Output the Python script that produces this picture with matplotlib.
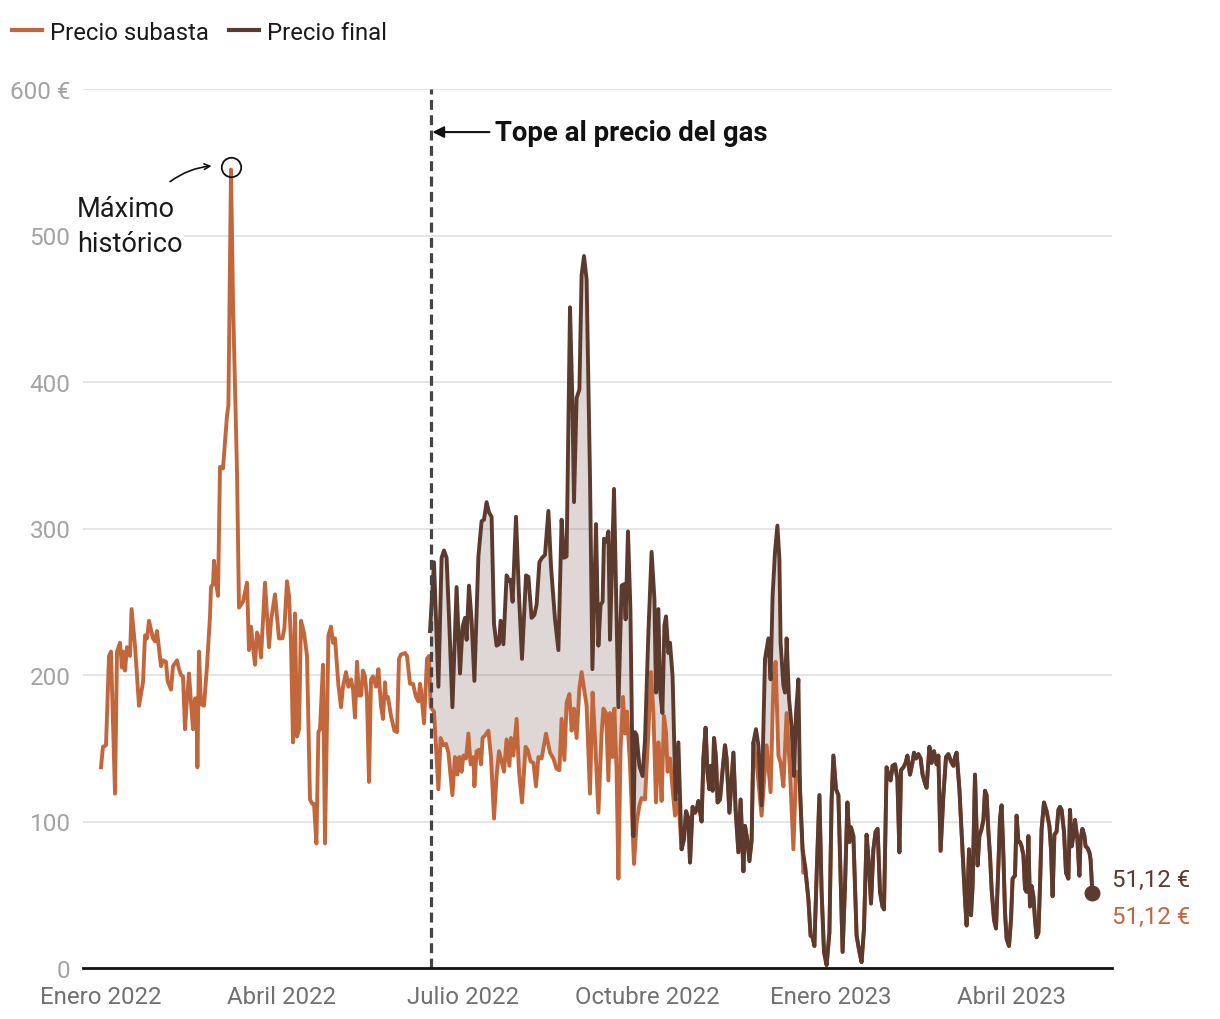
import numpy as np
import pandas as pd
import matplotlib
matplotlib.use("Agg")
import matplotlib.pyplot as plt
import matplotlib.dates as mdates
from matplotlib.lines import Line2D

plt.rcParams["font.family"] = ["Roboto", "DejaVu Sans"]

naranja = "#c2673c"
marron = "#5c3a2e"

inicio = pd.Timestamp("2022-01-01")
fecha_tope = pd.Timestamp("2022-06-15")

# dias contados desde el 1 de enero de 2022, precios en €/MWh
# antes del tope: solo precio de subasta
dias_pre = [0, 1, 2.5, 4, 5, 7, 8, 9.5, 10.5, 11,
            12, 13, 14.5, 15.3, 17, 19, 21, 22, 23, 24,
            26, 27, 28, 30, 31, 32.5, 33.3, 35, 36, 38,
            39, 40, 41, 42, 43, 44, 45, 46, 47, 47.7,
            48.2, 49, 50, 51.5, 53, 54.5, 55, 56, 56.5, 57.5,
            58.5, 59.5, 61, 63, 63.7, 65, 66, 68, 69, 71,
            73, 74, 75, 76, 77, 78, 79, 80, 82, 84,
            85, 87, 89, 90.7, 91.7, 93, 94, 95, 96, 97,
            98, 99, 100, 101.5, 103, 104.5, 105.7, 106.5, 107.7, 108.7,
            109.5, 111, 112, 113.7, 115, 116, 117, 118.7, 120, 121,
            122.5, 123.7, 125, 126, 127, 128, 129, 130, 131, 132,
            133, 134, 135, 136, 137.5, 138.7, 140, 141, 142, 142.5,
            143.5, 145, 146.7, 148, 149, 150, 152, 153, 154.5, 156,
            157.5, 158.7, 159.5, 160, 161.5, 163, 164]
subasta_pre = [137, 151, 152, 213, 216, 119, 216, 222, 205, 216,
               203, 219, 213, 245, 220, 179, 195, 227, 225, 237,
               225, 223, 230, 206, 210, 209, 196, 190, 206, 210,
               204, 200, 199, 163, 184, 201, 181, 163, 184, 184,
               137, 216, 180, 179, 206, 240, 260, 262, 278, 263,
               254, 342, 341, 377, 384, 545, 455, 339, 246, 250,
               263, 217, 233, 219, 207, 229, 225, 212, 263, 219,
               237, 255, 225, 225, 232, 264, 254, 222, 154, 242,
               158, 163, 237, 229, 213, 115, 112, 112, 85, 161,
               163, 207, 85, 227, 233, 222, 225, 193, 178, 192,
               202, 192, 197, 190, 171, 209, 186, 186, 203, 199,
               184, 127, 197, 199, 192, 204, 179, 170, 195, 184,
               185, 172, 162, 161, 211, 214, 215, 213, 194, 194,
               185, 182, 194, 190, 167, 211, 213]

# primer tramo con compensacion
dias_sub1 = [164.8, 166.5, 168.7, 169.8, 171.2, 172.5, 173.7, 175.7, 177, 178.2,
             179.2, 180.3, 181.2, 182.5, 183.7, 184.8, 186.2, 186.7, 187.8, 189,
             190, 190.8, 192.2, 193.7, 195, 196.5, 197.8, 199, 200.3, 201.5,
             202.8, 204.2, 205, 206.2, 207.8, 209, 210.5, 212.3, 213.3, 214.8,
             216.2, 217.5, 218.7, 220.3, 222.5, 224.5, 226.2, 227.8, 229.2, 230.3,
             231.7, 232.8, 234.2, 235.3, 236.5, 237.8, 239.2, 240.3, 241.5, 242.8,
             244.5, 245.8, 247, 248.7, 250.3, 251.2, 252.5, 253.7, 254.5, 255.7,
             256.7, 257.8, 258.7, 259.8, 261, 262, 263, 264.5, 266.5, 267.8,
             269.2, 270.3, 272, 273.7, 275, 276.2, 277.5, 278.7, 279.5, 280.3,
             281.5, 282.5, 283.3, 284.5, 285.8, 287, 288.7]
subasta1 = [178, 175, 122, 157, 152, 153, 147, 118, 144, 132,
            144, 134, 145, 143, 160, 139, 144, 124, 148, 149,
            139, 157, 159, 162, 144, 102, 131, 148, 141, 134,
            156, 138, 157, 145, 170, 134, 113, 151, 149, 141,
            140, 124, 144, 143, 160, 147, 143, 136, 135, 170,
            142, 181, 187, 162, 177, 157, 191, 202, 191, 179,
            119, 188, 157, 106, 160, 177, 174, 128, 174, 144,
            177, 134, 61, 150, 185, 160, 175, 138, 71, 99,
            111, 116, 115, 161, 202, 174, 113, 154, 138, 114,
            172, 161, 134, 143, 122, 104, 115]

dias_fin1 = [164.5, 166.5, 168.7, 170.3, 171.5, 172.8, 174.2, 175.7, 177.8, 179.5,
             180.8, 182, 182.8, 184, 185.3, 186.7, 188.7, 190.3, 191.5, 192.8,
             194, 195.3, 196.5, 197.8, 199, 199.8, 201.2, 202.8, 204.2, 204.8,
             205.8, 207.5, 209, 210.5, 212.5, 213.7, 215.3, 216.7, 217.8, 219.2,
             220.5, 222, 223.7, 225, 227, 228.7, 230.3, 231.5, 232.8, 234.5,
             235.7, 236.5, 237.8, 239.2, 240.3, 241.5, 242.8, 244.5, 245.7, 247.5,
             248.7, 249.8, 250.8, 251.5, 252.8, 253.7, 254.5, 256.5, 258.7, 260.3,
             261.5, 262.3, 263.5, 264.7, 266.2, 267, 267.8, 269.2, 270.8, 272,
             273.7, 275.3, 276.7, 277.5, 278.7, 279.5, 280.7, 281.7, 282.5, 283.7,
             284.5, 285.8, 287.3, 288.7]
final1 = [230, 277, 192, 280, 285, 280, 233, 178, 260, 201,
          233, 239, 224, 261, 237, 196, 281, 305, 306, 318,
          311, 308, 235, 220, 221, 237, 221, 268, 264, 265,
          250, 308, 254, 211, 268, 267, 239, 241, 248, 277,
          280, 282, 312, 274, 238, 217, 306, 280, 281, 451,
          387, 318, 389, 395, 473, 486, 470, 335, 204, 303,
          220, 248, 250, 293, 291, 298, 224, 327, 178, 261,
          262, 238, 298, 245, 90, 161, 159, 138, 131, 156,
          229, 284, 252, 188, 245, 190, 174, 234, 240, 215,
          222, 199, 115, 154]

# tramo en que ambos precios coinciden
dias_comun1 = [290.3, 291.5, 292.5, 293.7, 294.5, 295.8, 297, 297.8, 298.7, 300.3,
               301.2, 302.3, 303.2, 304.2, 304.8, 305.8, 306.5, 307.5, 308.3, 309.5,
               310.8, 312, 312.8, 314.2, 316.2, 317.3, 318.7, 319.8, 321.2, 322,
               323.2, 324.2, 325.3, 326.2]
comun1 = [81, 88, 107, 102, 72, 110, 106, 108, 114, 100,
          143, 164, 134, 122, 138, 121, 157, 143, 113, 115,
          135, 152, 143, 106, 147, 108, 79, 115, 66, 97,
          87, 73, 87, 154]

# segundo tramo con compensacion (diciembre)
dias_sub2 = [327.8, 330.3, 332.8, 334.8, 336.2, 337.3, 338.7, 339.8, 341.2, 342.8,
             344.5, 346.2, 347.5, 349.2, 351.2]
subasta2 = [140, 104, 152, 120, 195, 209, 145, 140, 124, 174,
            134, 81, 134, 131, 65]
dias_fin2 = [327.5, 328.7, 330.3, 332, 333.7, 334.8, 335.8, 337, 338.2, 339.2,
             339.8, 341.2, 342, 342.8, 344, 345.3, 346.5, 347.5, 348.7, 349.5, 350.8]
final2 = [163, 152, 111, 211, 225, 197, 254, 284, 302, 279,
          222, 193, 188, 225, 184, 165, 131, 174, 197, 122, 81]

# 2023: ambos precios coinciden
dias_comun2 = [352, 353.7, 354.8, 355.8, 356.7, 357.8, 359.2, 360.3, 361.5, 362.8,
               364.2, 365.3, 366.2, 367.5, 368.7, 370.8, 372, 373.2, 374.2, 375,
               376.2, 377.8, 379.2, 380.3, 381.5, 382.8, 384, 385, 386.2, 387.3,
               388.3, 389.5, 390.7, 391.5, 392.8, 394, 394.8, 395.8, 397, 398.2,
               399.2, 400, 401.2, 402.3, 403.2, 404.5, 405.7, 406.5, 407.5, 408.7,
               409.8, 410.8, 412, 412.8, 414.2, 415.3, 416.5, 417.8, 418.7, 419.8,
               421.2, 422.5, 423.7, 425, 426.2, 427, 427.8, 429.2, 430.8, 432,
               432.8, 434, 435, 435.8, 437, 438.3, 439.2, 440.3, 441.2, 442,
               442.8, 443.7, 444.5, 445.3, 446.5, 447.5, 448.7, 449.5, 450.3, 451.2,
               452, 452.8, 454, 455, 455.8, 457, 457.8, 458.7, 459.5, 460.3,
               461.2, 462, 462.8, 463.7, 464.5, 465.3, 466.2, 467, 467.8, 468.7,
               469.5, 470.3, 471.5, 472.8, 474.2, 475, 475.8, 476.7, 477.8, 478.7,
               479.5, 480.3, 481.5, 482.5, 483.7, 484.5, 485.3, 486.2, 487, 488.2,
               489.2, 489.8, 490.7, 491.7, 492.3, 493.2, 494.2, 494.8, 495.7]
comun2 = [70, 47, 22, 21, 15, 63, 118, 52, 11, 2,
          24, 115, 145, 122, 118, 11, 56, 113, 86, 96,
          90, 22, 11, 4, 27, 91, 70, 44, 81, 93,
          95, 52, 42, 40, 137, 130, 128, 138, 139, 129,
          79, 135, 137, 140, 145, 132, 140, 147, 143, 146,
          143, 132, 126, 123, 151, 140, 148, 139, 145, 80,
          118, 144, 146, 141, 138, 144, 147, 122, 79, 47,
          29, 81, 36, 56, 132, 70, 90, 95, 101, 121,
          118, 93, 77, 54, 33, 27, 70, 102, 111, 77,
          38, 20, 15, 33, 61, 63, 104, 86, 86, 83,
          77, 54, 52, 90, 42, 56, 49, 33, 21, 24,
          56, 95, 113, 107, 97, 81, 49, 91, 93, 108,
          110, 108, 93, 65, 61, 108, 83, 90, 101, 88,
          63, 88, 95, 90, 83, 82, 79, 74, 51.12]

meses = ["2022-01-01", "2022-04-01", "2022-07-01", "2022-10-01", "2023-01-01", "2023-04-01"]
etiquetas_meses = ["Enero 2022", "Abril 2022", "Julio 2022", "Octubre 2022", "Enero 2023", "Abril 2023"]
valores_y = [0, 100, 200, 300, 400, 500, 600]
etiquetas_y = ["0", "100", "200", "300", "400", "500", "600 €"]


def a_fecha(dias):
    return mdates.date2num(inicio + pd.to_timedelta(np.asarray(dias, dtype=float), unit="D"))


x_sub = a_fecha(dias_pre + dias_sub1 + dias_comun1 + dias_sub2 + dias_comun2)
y_sub = np.array(subasta_pre + subasta1 + comun1 + subasta2 + comun2)
x_fin = a_fecha(dias_fin1 + dias_comun1 + dias_fin2 + dias_comun2)
y_fin = np.array(final1 + comun1 + final2 + comun2)

# area entre ambos precios durante el tope
x_arriba = a_fecha(dias_fin1 + dias_comun1 + dias_fin2)
y_arriba = final1 + comun1 + final2
x_abajo = a_fecha(dias_sub1 + dias_comun1 + dias_sub2)
y_abajo = subasta1 + comun1 + subasta2

fig = plt.figure(figsize=(12.2, 10.2), dpi=100)
ax = fig.add_axes([83 / 1220, 1 - 969 / 1020, (1112 - 83) / 1220, (969 - 90) / 1020])

ax.fill(np.concatenate([x_arriba, x_abajo[::-1]]), np.concatenate([y_arriba, y_abajo[::-1]]),
        color="#6a4c40", alpha=0.22, lw=0, zorder=2)
ax.plot(x_sub, y_sub, color=naranja, lw=2.8, solid_joinstyle="round", zorder=3)
ax.plot(x_fin, y_fin, color=marron, lw=2.8, solid_joinstyle="round", zorder=4)

x_tope = mdates.date2num(fecha_tope)
ax.axvline(x_tope, color="#444444", lw=2.3, linestyle=(0, (3.1, 1.7)), zorder=5)

ax.set_xlim(a_fecha([-9])[0], a_fecha([505.5])[0])
ax.set_ylim(0, 600)
ax.set_yticks(valores_y)
ax.set_yticklabels(etiquetas_y)
ax.set_xticks(mdates.date2num(pd.to_datetime(meses)))
ax.set_xticklabels(etiquetas_meses)
ax.tick_params(axis="y", length=0, pad=9, labelsize=17.5, labelcolor="#a3a3a3")
ax.tick_params(axis="x", length=0, pad=12, labelsize=17.3, labelcolor="#707070")
ax.yaxis.grid(True, color="#e3e3e3", lw=1.3)
ax.set_axisbelow(True)
for lado in ["left", "right", "top"]:
    ax.spines[lado].set_visible(False)
ax.spines["bottom"].set_color("#111111")
ax.spines["bottom"].set_linewidth(2)
ax.spines["bottom"].set_zorder(6)

# maximo historico
i_max = int(np.argmax(y_sub))
ax.plot(x_sub[i_max], y_sub[i_max] + 2, "o", ms=14, mfc="none", mec="#111111", mew=1.3, zorder=6)
ax.annotate("", xy=(x_sub[i_max], y_sub[i_max] + 2), xytext=(-61, -15), textcoords="offset pixels",
            arrowprops=dict(arrowstyle="->", color="#111111", lw=1.2, shrinkA=0, shrinkB=14,
                            connectionstyle="arc3,rad=-0.2"))
ax.annotate("Máximo\nhistórico", xy=(x_sub[i_max], y_sub[i_max]), xytext=(-154, -25),
            textcoords="offset pixels", ha="left", va="top", fontsize=19.5, color="#1a1a1a",
            linespacing=1.38, annotation_clip=False,
            bbox=dict(boxstyle="square,pad=0.05", fc="white", ec="none"))

# tope al precio del gas
ax.annotate("Tope al precio del gas", xy=(x_tope, 570.6), xytext=(64, 0), textcoords="offset pixels",
            ha="left", va="center", fontsize=19.8, fontweight="bold", color="#111111",
            arrowprops=dict(arrowstyle="-|>", color="#111111", lw=1.5, mutation_scale=17,
                            shrinkA=2, shrinkB=1))

# ultimo valor
ax.plot(x_fin[-1], y_fin[-1], "o", ms=10.5, color=marron, zorder=7, clip_on=False)
texto_final = f"{y_fin[-1]:.2f} €".replace(".", ",")
ax.annotate(texto_final, xy=(x_fin[-1], y_fin[-1]), xytext=(20, 14), textcoords="offset pixels",
            ha="left", va="center", fontsize=17.3, color=marron, annotation_clip=False)
ax.annotate(texto_final, xy=(x_sub[-1], y_sub[-1]), xytext=(20, -23), textcoords="offset pixels",
            ha="left", va="center", fontsize=17.3, color=naranja, annotation_clip=False)

manejadores = [Line2D([], [], color=naranja, lw=3), Line2D([], [], color=marron, lw=3)]
ax.legend(manejadores, ["Precio subasta", "Precio final"], loc="center left",
          bbox_to_anchor=(12 / 1220, 1 - 33 / 1020), bbox_transform=fig.transFigure,
          ncol=2, frameon=False, fontsize=17.2, handlelength=1.25, handletextpad=0.33,
          columnspacing=0.85, borderpad=0, borderaxespad=0, labelcolor="#1a1a1a")

fig.savefig("out.png", dpi=100, facecolor="white")
